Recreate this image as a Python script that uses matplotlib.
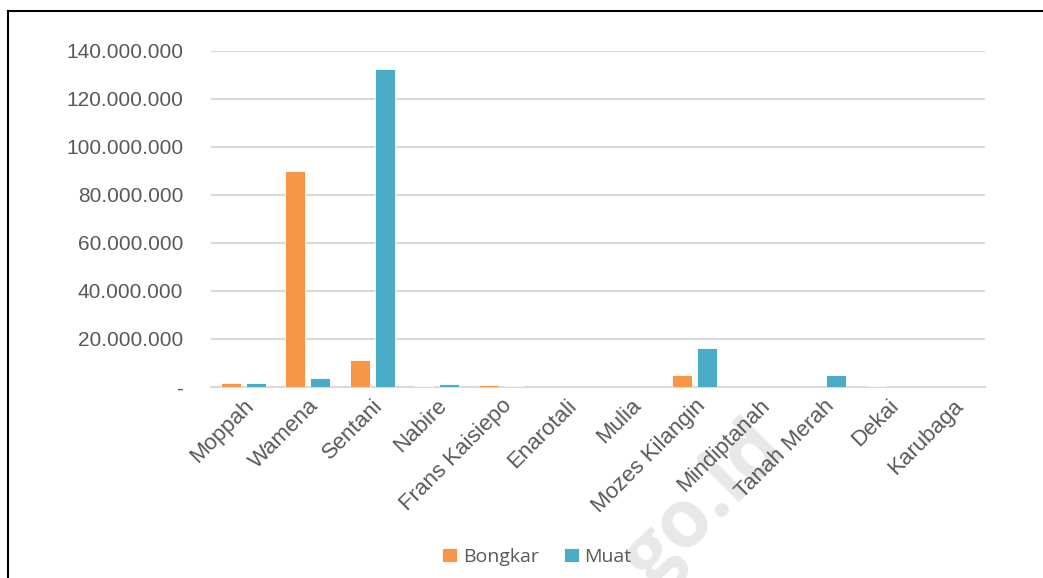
import matplotlib
matplotlib.use('Agg')

import numpy as np
import matplotlib.pyplot as plt
from matplotlib.ticker import FuncFormatter, MultipleLocator

# cargo per airport (kg)
airports = ['Moppah', 'Wamena', 'Sentani', 'Nabire', 'Frans Kaisiepo', 'Enarotali',
            'Mulia', 'Mozes Kilangin', 'Mindiptanah', 'Tanah Merah', 'Dekai', 'Karubaga']
bongkar = [1.7e6, 90.0e6, 11.2e6, 0.3e6, 0.8e6, 0.1e6,
           0.0, 5.0e6, 0.0, 0.0, 0.4e6, 0.0]
muat = [1.5e6, 3.8e6, 132.5e6, 1.3e6, 0.3e6, 0.2e6,
        0.0, 16.2e6, 0.0, 5.0e6, 0.0, 0.0]

ORANGE = '#f79646'
TEAL = '#4bacc6'
GREY = '#595959'

plt.rcParams['font.family'] = ['Liberation Sans', 'DejaVu Sans']

fig = plt.figure(figsize=(10.43, 5.78), dpi=100)
ax = fig.add_axes([211 / 1043, 1 - 387 / 578, 774 / 1043, 336 / 578])

x = np.arange(len(airports))
w = 0.31
off = 0.194
ax.bar(x - off, bongkar, w, color=ORANGE, edgecolor='white', linewidth=0.6, label='Bongkar', zorder=3)
ax.bar(x + off, muat, w, color=TEAL, edgecolor='white', linewidth=0.6, label='Muat', zorder=3)

ax.set_xlim(-0.5, len(airports) - 0.5)
ax.set_ylim(0, 140e6)
ax.yaxis.set_major_locator(MultipleLocator(20e6))


def fmt(v, pos):
    if v == 0:
        return '-'
    return f'{int(round(v)):,}'.replace(',', '.')


ax.yaxis.set_major_formatter(FuncFormatter(fmt))
ax.grid(axis='y', color='#d9d9d9', linewidth=1.5, zorder=0)
ax.set_axisbelow(True)
for s in ['top', 'right', 'left']:
    ax.spines[s].set_visible(False)
ax.spines['bottom'].set_color('#d9d9d9')
ax.spines['bottom'].set_linewidth(1.5)
ax.tick_params(axis='y', length=0, pad=20, labelsize=15, labelcolor=GREY)
ax.tick_params(axis='x', length=0, pad=6, labelsize=16, labelcolor=GREY)
ax.set_xticks(x)
ax.set_xticklabels(airports, rotation=45, ha='right', rotation_mode='anchor')

leg = fig.legend(loc='center', bbox_to_anchor=(537 / 1043, 1 - 557 / 578), ncol=2,
                 frameon=False, handlelength=0.75, handleheight=0.75, handletextpad=0.3,
                 columnspacing=1.3, prop={'family': 'Open Sans', 'size': 14})
for t in leg.get_texts():
    t.set_color(GREY)

# watermark
fig.text(705 / 1043, 1 - 505 / 578, 'go.id', fontsize=58, fontweight='bold', color='#e8e8e8',
         rotation=45, ha='center', va='center', family='Open Sans', zorder=-1)

# frame lines
fig.add_artist(plt.Line2D([8 / 1043, 8 / 1043], [0, 1 - 11 / 578], color='black', lw=1.5))
fig.add_artist(plt.Line2D([8 / 1043, 1], [1 - 11 / 578, 1 - 11 / 578], color='black', lw=1.5))

fig.savefig('out.png', dpi=100)
